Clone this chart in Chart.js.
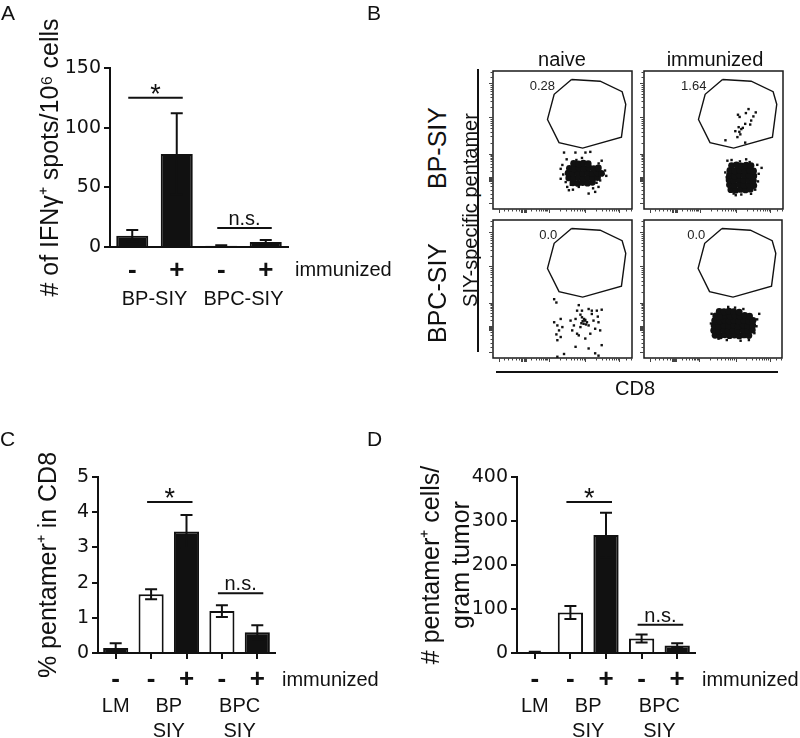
<!DOCTYPE html>
<html>
<head>
<meta charset="utf-8">
<script src="https://cdn.jsdelivr.net/npm/chart.js"></script>
<style>
  body { margin: 0; background: #fff; }
  #fig { position: relative; width: 800px; height: 738px; overflow: hidden;
         font-family: "Liberation Sans", Arial, sans-serif; color: #111; }
  canvas { position: absolute; }
  .t { position: absolute; white-space: nowrap; line-height: 1; }
  .c { transform: translateX(-50%); }
  .rot { transform: translate(-50%, -50%) rotate(-90deg); }
  .ln { position: absolute; background: #111; }
</style>
</head>
<body>
<div id="fig">
  <canvas id="chartA" width="400" height="320" style="left:0;top:0"></canvas>
  <canvas id="chartC" width="400" height="338" style="left:0;top:400px"></canvas>
  <canvas id="chartD" width="400" height="338" style="left:400px;top:400px"></canvas>
  <canvas id="flowTL" width="151" height="150" style="left:485px;top:67px"></canvas>
  <canvas id="flowTR" width="151" height="150" style="left:636px;top:67px"></canvas>
  <canvas id="flowBL" width="151" height="150" style="left:485px;top:216px"></canvas>
  <canvas id="flowBR" width="150" height="150" style="left:636px;top:216px"></canvas>

  <div class="t" style="left:1px;top:2px;font-size:21px">A</div>
  <div class="t" style="left:367px;top:2px;font-size:21px">B</div>
  <div class="t" style="left:0;top:428px;font-size:21px">C</div>
  <div class="t" style="left:367px;top:428px;font-size:21px">D</div>

  <div class="t c" style="left:562px;top:49px;font-size:20px">naive</div>
  <div class="t c" style="left:715px;top:49px;font-size:20px">immunized</div>
  <div class="t rot" style="left:437px;top:148px;font-size:25px">BP-SIY</div>
  <div class="t rot" style="left:437px;top:293px;font-size:25px">BPC-SIY</div>
  <div class="t rot" style="left:470px;top:210px;font-size:20px">SIY-specific pentamer</div>
  <div class="ln" style="left:477px;top:69px;width:2px;height:283px"></div>
  <div class="ln" style="left:496px;top:371px;width:282px;height:2px"></div>
  <div class="t c" style="left:635px;top:378px;font-size:20px">CD8</div>
</div>

<script>
// ---- panel A: IFNg ELISpot ----
const catsA = ["-", "+", "-", "+"];
const groupsA = [["BP-SIY"], ["BPC-SIY"]];
const membersA = [[0, 1], [2, 3]];
const valsA = [9.5, 78, 1, 4.2];
const errA = [4.7, 34, 0.5, 1.7];
const fillA = ["k", "k", "k", "k"];
const ticksA = [0, 50, 100, 150];
const sigA = [[0, 1, 125, "*"], [2, 3, 16, "n.s."]];

// ---- panel C: % pentamer+ in CD8 ----
const catsC = ["-", "-", "+", "-", "+"];
const groupsC = [["LM"], ["BP", "SIY"], ["BPC", "SIY"]];
const membersC = [[0], [1, 2], [3, 4]];
const valsC = [0.14, 1.67, 3.45, 1.19, 0.59];
const errC = [0.14, 0.14, 0.47, 0.17, 0.2];
const fillC = ["k", "w", "k", "w", "k"];
const ticksC = [0, 1, 2, 3, 4, 5];
const sigC = [[1, 2, 4.29, "*"], [3, 4, 1.7, "n.s."]];

// ---- panel D: pentamer+ cells / gram tumor ----
const catsD = ["-", "-", "+", "-", "+"];
const groupsD = [["LM"], ["BP", "SIY"], ["BPC", "SIY"]];
const membersD = [[0], [1, 2], [3, 4]];
const valsD = [2, 92, 268, 33, 17];
const errD = [1, 15, 51, 9, 5];
const fillD = ["k", "w", "k", "w", "k"];
const ticksD = [0, 100, 200, 300, 400];
const sigD = [[1, 2, 343, "*"], [3, 4, 64, "n.s."]];

// ---- panel B: flow plots (axis units 0..1000) ----
const gatePoly = [[565,938],[771,926],[929,850],[955,759],[924,521],[645,441],[475,481],[392,649],[440,831]];
const gateLabels = ["0.28", "1.64", "0.0", "0.0"];
const gateLabelX = [355, 358, 397, 379];
const flowMajor = [45, 205, 212, 220, 228, 235, 400, 665, 910];
const flowMinor = [80,110,140,165,185,274,306,328,346,360,372,383,392,480,526,560,585,606,624,639,653,739,782,812,836,856,872,886,899,960,990];

const tlCore = [[575,190],[610,185],[645,192],[680,187],[715,193],
  [545,225],[580,221],[615,228],[650,223],[685,229],[720,222],[752,228],
  [540,260],[575,256],[610,263],[645,258],[680,264],[715,257],[750,262],[780,258],
  [550,295],[585,291],[620,298],[655,293],[690,299],[725,292],[758,297],
  [580,330],[615,326],[650,333],[685,328]];
const tlDots = [[511,409],[593,409],[665,409],[700,414],[499,319],[487,291],[782,350],[794,255],[806,279],
  [523,195],[534,160],[546,136],[688,112],[735,124],[759,160],[617,160],[487,219],[771,207],[530,360],
  [760,330],[815,240],[505,250],[720,150],[575,140],[640,370],[600,355],[745,190],[560,175]];

const trCore = [[625,140],[660,135],[695,142],[730,138],[765,144],
  [615,175],[650,170],[685,178],[720,172],[755,176],[790,170],
  [612,210],[647,206],[682,213],[717,208],[752,212],[787,206],
  [615,245],[650,240],[685,248],[720,243],[755,246],[790,240],
  [618,280],[653,276],[688,283],[723,278],[758,282],[788,276],
  [630,315],[665,320],[700,312],[735,318],[770,315]];
const trDots = [[600,350],[690,345],[760,340],[846,298],[645,112],[820,200],[595,230],[825,255],[700,105],
  [770,110],[605,170],[815,320],[735,360],[585,265],[660,100],[800,140],[630,355]];
const trGated = [[676,683],[688,667],[733,695],[804,700],[752,724],[771,641],[764,612],[728,617],[681,593],
  [700,579],[657,564],[686,559],[672,521],[728,481],[586,498],[787,671],[711,588],[693,541]];

const blDots = [[440,426],[456,402],[617,383],[688,355],[605,343],[711,343],[747,343],[782,350],[487,283],
  [558,271],[594,283],[640,295],[660,271],[676,259],[652,248],[688,236],[723,271],[759,259],[629,224],
  [582,236],[440,259],[463,236],[475,200],[456,171],[487,152],[605,176],[735,212],[771,200],[700,176],
  [664,141],[617,164],[594,81],[688,69],[782,93],[735,34],[759,17],[511,29],[463,129],[711,319],
  [629,314],[640,343],[754,300],[499,224],[570,200],[463,9],[645,267],[664,276],[636,252],[669,243],[655,283]];

const brCore = [[515,165],[550,160],[585,168],[620,162],[655,166],[690,160],[725,167],[760,163],
  [505,200],[540,196],[575,203],[610,198],[645,202],[680,197],[715,204],[750,199],[785,203],
  [508,235],[543,231],[578,238],[613,233],[648,237],[683,232],[718,239],[753,234],[788,237],
  [512,270],[547,266],[582,273],[617,268],[652,272],[687,267],[722,274],[757,269],[790,272],
  [520,305],[555,301],[590,308],[625,303],[660,307],[695,302],[730,309],[765,304],
  [545,338],[580,335],[615,340],[650,336],[690,333]];
const brDots = [[485,250],[820,280],[835,320],[760,130],[600,130],[700,125],[490,320],[610,370],[800,180],
  [815,230],[540,140],[720,355],[660,365]];

const INK = "#111";
const FONT = "Liberation Sans";

function barExtras(o) {
  return {
    id: "barExtras",
    afterDatasetsDraw(chart) {
      const { ctx, scales: { x, y } } = chart;
      ctx.save();
      ctx.strokeStyle = INK; ctx.lineWidth = 2;
      o.vals.forEach((v, i) => {
        const cx = x.getPixelForValue(i);
        const yt = y.getPixelForValue(v + o.err[i]);
        const yb = y.getPixelForValue(Math.max(0, v - o.err[i]));
        ctx.beginPath();
        ctx.moveTo(cx, yt); ctx.lineTo(cx, yb);
        ctx.moveTo(cx - 6, yt); ctx.lineTo(cx + 6, yt);
        ctx.moveTo(cx - 6, yb); ctx.lineTo(cx + 6, yb);
        ctx.stroke();
      });
      ctx.fillStyle = INK; ctx.textAlign = "center";
      o.sig.forEach(([a, b, v, label]) => {
        const x0 = x.getPixelForValue(a) - 4, x1 = x.getPixelForValue(b) + 6;
        const yy = y.getPixelForValue(v);
        ctx.beginPath(); ctx.moveTo(x0, yy); ctx.lineTo(x1, yy); ctx.stroke();
        ctx.textBaseline = "alphabetic";
        if (label === "*") {
          ctx.font = `27px ${FONT}`;
          ctx.fillText(label, (x0 + x1) / 2, yy + 5);
        } else {
          ctx.font = `20px ${FONT}`;
          ctx.fillText(label, (x0 + x1) / 2, yy - 3);
        }
      });
      ctx.restore();
    },
    afterDraw(chart) {
      const { ctx, chartArea: a, scales: { x } } = chart;
      ctx.save();
      ctx.fillStyle = INK; ctx.textAlign = "center"; ctx.textBaseline = "middle";
      ctx.font = `bold 26px ${FONT}`;
      o.cats.forEach((c, i) => ctx.fillText(c, x.getPixelForValue(i), a.bottom + o.signDy));
      ctx.font = `20px ${FONT}`; ctx.textBaseline = "alphabetic";
      o.groups.forEach((lines, g) => {
        const m = o.members[g];
        const cx = m.reduce((s, i) => s + x.getPixelForValue(i), 0) / m.length;
        lines.forEach((t, k) => ctx.fillText(t, cx, a.bottom + o.grpDy + k * 25));
      });
      ctx.textAlign = "left";
      ctx.fillText("immunized", a.right + 7, a.bottom + o.immDy);
      ctx.restore();
    }
  };
}

function barChart(id, o) {
  return new Chart(document.getElementById(id), {
    type: "bar",
    data: {
      labels: o.cats,
      datasets: [{
        data: o.vals,
        backgroundColor: o.fill.map(f => f === "w" ? "#fff" : INK),
        borderColor: INK, borderWidth: 2,
        barPercentage: o.barPct, categoryPercentage: 1
      }]
    },
    options: {
      responsive: false, animation: false,
      layout: { padding: { left: o.padL, top: o.area.t, right: o.w - o.area.r, bottom: 0 } },
      scales: {
        x: {
          z: 1,
          grid: { display: o.xTicks, drawOnChartArea: false, offset: false, tickLength: 6, color: INK, lineWidth: 2 },
          border: { color: INK, width: 2 },
          ticks: { display: false },
          afterFit: s => { s.height = o.h - o.area.b; }
        },
        y: {
          min: 0, max: o.yTicks[o.yTicks.length - 1],
          afterBuildTicks: s => { s.ticks = o.yTicks.map(v => ({ value: v })); },
          grid: { drawOnChartArea: false, tickLength: 6, color: INK, lineWidth: 2 },
          border: { color: INK, width: 2 },
          ticks: { color: INK, padding: 3, font: { family: "DejaVu Sans", size: 19 } },
          title: { display: true, text: o.title, color: INK, padding: 0,
                   font: { family: FONT, size: 25, lineHeight: 1.2 } },
          afterFit: s => { s.width = o.area.l - o.padL; }
        }
      },
      plugins: { legend: { display: false }, tooltip: { enabled: false } }
    },
    plugins: [barExtras(o)]
  });
}

barChart("chartA", {
  cats: catsA, groups: groupsA, members: membersA, vals: valsA, err: errA, fill: fillA,
  yTicks: ticksA, sig: sigA, title: "# of IFNγ⁺ spots/10⁶ cells",
  w: 400, h: 320, padL: 36, area: { l: 110, t: 68, r: 288, b: 247 },
  barPct: 0.72, xTicks: false, signDy: 24, immDy: 29, grpDy: 58
});
barChart("chartC", {
  cats: catsC, groups: groupsC, members: membersC, vals: valsC, err: errC, fill: fillC,
  yTicks: ticksC, sig: sigC, title: "% pentamer⁺ in CD8",
  w: 400, h: 338, padL: 34, area: { l: 98, t: 77, r: 275, b: 253 },
  barPct: 0.71, xTicks: true, signDy: 27, immDy: 33, grpDy: 59
});
barChart("chartD", {
  cats: catsD, groups: groupsD, members: membersD, vals: valsD, err: errD, fill: fillD,
  yTicks: ticksD, sig: sigD, title: ["# pentamer⁺ cells/", "gram tumor"],
  w: 400, h: 338, padL: 17, area: { l: 117, t: 77, r: 295, b: 253 },
  barPct: 0.71, xTicks: true, signDy: 27, immDy: 33, grpDy: 59
});

function flowFrame(label, lx) {
  return {
    id: "flowFrame",
    afterDraw(chart) {
      const { ctx, chartArea: a, scales: { x, y } } = chart;
      ctx.save();
      ctx.strokeStyle = "#1a1a1a"; ctx.lineWidth = 1.5;
      ctx.strokeRect(a.left, a.top, a.right - a.left, a.bottom - a.top);
      ctx.strokeStyle = "#444"; ctx.lineWidth = 1;
      ctx.beginPath();
      [[flowMajor, 4], [flowMinor, 2.5]].forEach(([list, len]) => list.forEach(v => {
        const py = Math.round(y.getPixelForValue(v)) + 0.5;
        const px = Math.round(x.getPixelForValue(v)) + 0.5;
        ctx.moveTo(a.left - len, py); ctx.lineTo(a.left, py);
        ctx.moveTo(px, a.bottom); ctx.lineTo(px, a.bottom + len);
      }));
      ctx.stroke();
      ctx.fillStyle = "#222"; ctx.font = `13px ${FONT}`; ctx.textAlign = "center";
      ctx.fillText(label, x.getPixelForValue(lx), y.getPixelForValue(865));
      ctx.restore();
    }
  };
}

const pts = arr => arr.map(([x, y]) => ({ x, y }));

function flowChart(id, core, dots, k) {
  return new Chart(document.getElementById(id), {
    type: "scatter",
    data: {
      datasets: [
        { data: pts([...gatePoly, gatePoly[0]]), showLine: true, borderColor: INK, borderWidth: 1.4,
          pointRadius: 0, fill: false, tension: 0 },
        { data: pts(core), pointRadius: 3.4, pointStyle: "circle", backgroundColor: INK, borderWidth: 0 },
        { data: pts(dots), pointRadius: 1.7, pointStyle: "rect", backgroundColor: INK, borderWidth: 0 }
      ]
    },
    options: {
      responsive: false, animation: false,
      layout: { padding: { left: 8, top: 2, right: 2, bottom: 8 } },
      scales: {
        x: { type: "linear", min: 0, max: 1000, display: false },
        y: { type: "linear", min: 0, max: 1000, display: false }
      },
      plugins: { legend: { display: false }, tooltip: { enabled: false } }
    },
    plugins: [flowFrame(gateLabels[k], gateLabelX[k])]
  });
}

flowChart("flowTL", tlCore, tlDots, 0);
flowChart("flowTR", trCore, [...trDots, ...trGated], 1);
flowChart("flowBL", [], blDots, 2);
flowChart("flowBR", brCore, brDots, 3);
</script>
</body>
</html>
